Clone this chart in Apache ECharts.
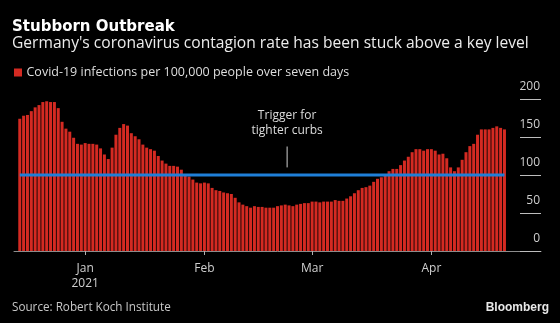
<!DOCTYPE html>
<html>
<head>
<meta charset="utf-8">
<script src="https://cdn.jsdelivr.net/npm/echarts@6/dist/echarts.min.js"></script>
<style>
  html, body { margin: 0; padding: 0; background: #000; }
  #chart { width: 560px; height: 323px; }
</style>
</head>
<body>
<div id="chart"></div>
<script>
// Germany: Covid-19 infections per 100,000 people over seven days (RKI), one bar per day
const firstDay = '2020-12-15';
const incidence = [
  174, 178, 179, 184, 189, 192, 196, 197, 196, 196,
  188, 170, 161, 157, 149, 141, 140, 142, 141, 141,
  140, 135, 127, 121, 136, 153, 162, 167, 165, 155,
  151, 147, 140, 136, 134, 132, 125, 119, 115, 112,
  112, 111, 107, 101, 98, 94, 90, 89, 90, 89,
  83, 80, 79, 77, 76, 75, 70, 64, 61, 59,
  57, 59, 58, 58, 57, 57, 57, 59, 60, 61,
  60, 59, 61, 62, 63, 63, 65, 65, 64, 65,
  65, 65, 67, 66, 66, 69, 72, 76, 80, 83,
  84, 86, 91, 95, 97, 99, 105, 108, 108, 113,
  119, 124, 130, 134, 134, 132, 134, 134, 132, 127,
  128, 122, 110, 105, 110, 120, 130, 138, 141, 153,
  160, 160, 160, 162, 164, 162, 160
];
// Threshold that triggers tighter curbs
const triggerLevel = 100;
// Month tick labels on the date axis
const monthLabels = {
  '2021-01-01': 'Jan\n2021',
  '2021-02-01': 'Feb',
  '2021-03-01': 'Mar',
  '2021-04-01': 'Apr'
};
const yMin = 0, yMax = 200, yStep = 50;
// Empty days shown before the first and after the last bar
const daysBefore = 1, daysAfter = 9;

function shiftDay(iso, n) {
  const d = new Date(iso + 'T00:00:00Z');
  d.setUTCDate(d.getUTCDate() + n);
  return d.toISOString().slice(0, 10);
}

const total = daysBefore + incidence.length + daysAfter;
const days = [];
for (let i = 0; i < total; i++) days.push(shiftDay(firstDay, i - daysBefore));
const pad = n => new Array(n).fill(null);
const barData = pad(daysBefore).concat(incidence, pad(daysAfter));
const triggerData = pad(daysBefore).concat(incidence.map(() => triggerLevel), pad(daysAfter));
const isMonthStart = (idx, val) => Object.prototype.hasOwnProperty.call(monthLabels, val);

const SANS = '"Open Sans", "Noto Sans", sans-serif';

const chart = echarts.init(document.getElementById('chart'), null, { renderer: 'canvas' });
chart.setOption({
  backgroundColor: '#000',
  animation: false,
  grid: { left: 14, right: 19, top: 99, bottom: 72, containLabel: false },
  xAxis: {
    type: 'category',
    data: days,
    boundaryGap: true,
    axisLine: { show: true, lineStyle: { color: '#8c8c8c', width: 1 } },
    axisTick: { show: true, interval: isMonthStart, alignWithLabel: true, length: 4,
                lineStyle: { color: '#b0b0b0', width: 1 } },
    axisLabel: { show: true, interval: isMonthStart, formatter: v => monthLabels[v] || '',
                 color: '#cfcfcf', fontSize: 12, lineHeight: 15, margin: 10, fontFamily: SANS },
    splitLine: { show: false }
  },
  yAxis: {
    type: 'value',
    position: 'right',
    min: yMin, max: yMax, interval: yStep,
    axisLine: { show: false },
    splitLine: { show: false },
    axisTick: { show: true, inside: true, length: 21, lineStyle: { color: '#bdbdbd', width: 1 } },
    axisLabel: { show: true, inside: true, margin: 1, verticalAlign: 'bottom', lineHeight: 24,
                 color: '#cfcfcf', fontSize: 12, fontFamily: SANS }
  },
  series: [
    {
      name: 'Covid-19 infections per 100,000 people over seven days',
      type: 'bar',
      data: barData,
      barWidth: '78%',
      itemStyle: { color: '#d42a22' },
      silent: true
    },
    {
      name: 'Trigger',
      type: 'line',
      data: triggerData,
      symbol: 'none',
      lineStyle: { color: '#1f7fd8', width: 3 },
      silent: true,
      z: 5
    }
  ]
});

// Annotation for the trigger level, anchored on the date axis
const annA = chart.convertToPixel({ xAxisIndex: 0, yAxisIndex: 0 }, ['2021-02-22', 110]);
const annB = chart.convertToPixel({ xAxisIndex: 0, yAxisIndex: 0 }, ['2021-02-23', 137.5]);
const annX = (annA[0] + annB[0]) / 2;

chart.setOption({
  graphic: [
    { type: 'text', x: 12, y: 27.5,
      style: { text: 'Stubborn Outbreak', fill: '#ffffff', font: 'bold 15px "DejaVu Sans", sans-serif',
               verticalAlign: 'middle', align: 'left' } },
    { type: 'text', x: 12, y: 44,
      style: { text: "Germany's coronavirus contagion rate has been stuck above a key level", fill: '#ececec',
               font: '15.6px ' + SANS, verticalAlign: 'middle', align: 'left' } },
    { type: 'rect', shape: { x: 14, y: 68.5, width: 8, height: 8 }, style: { fill: '#d42a22' } },
    { type: 'text', x: 26.5, y: 72.5,
      style: { text: 'Covid-19 infections per 100,000 people over seven days', fill: '#dedede',
               font: '12.5px ' + SANS, verticalAlign: 'middle', align: 'left' } },
    { type: 'text', x: annX, y: 123,
      style: { text: 'Trigger for\ntighter curbs', fill: '#dcdcdc', font: '12px ' + SANS,
               lineHeight: 14.5, align: 'center', verticalAlign: 'middle' } },
    { type: 'line', shape: { x1: annX, y1: annB[1], x2: annX, y2: annA[1] },
      style: { stroke: '#d0d0d0', lineWidth: 1 } },
    { type: 'text', x: 12, y: 307.5,
      style: { text: 'Source: Robert Koch Institute', fill: '#c8c8c8', font: '11.7px ' + SANS,
               verticalAlign: 'middle', align: 'left' } },
    { type: 'text', x: 549, y: 308,
      style: { text: 'Bloomberg', fill: '#e8e8e8', font: 'bold 12px "Liberation Sans", sans-serif',
               verticalAlign: 'middle', align: 'right' } }
  ]
});
</script>
</body>
</html>
